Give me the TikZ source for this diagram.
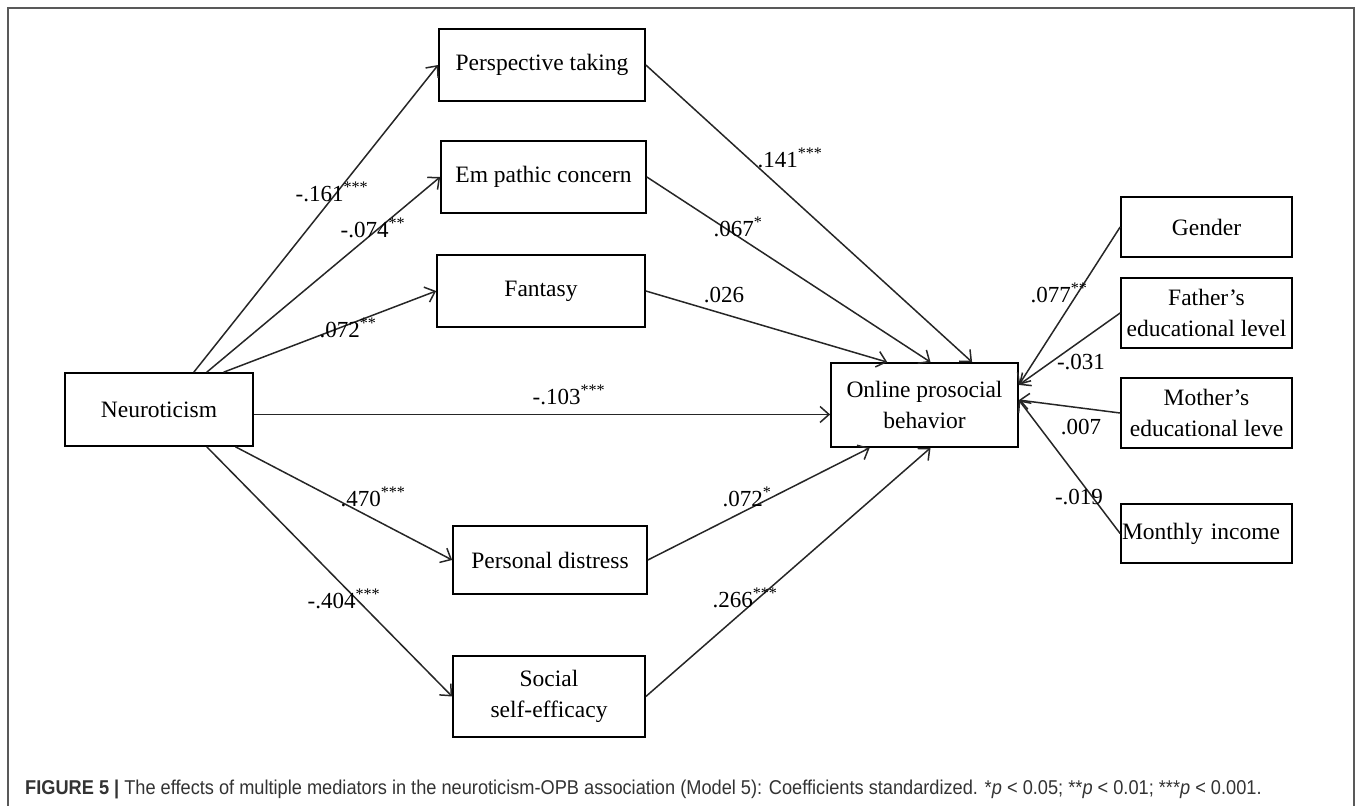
\documentclass[tikz,border=0pt]{standalone}
\usepackage{fontspec}
\setmainfont{Liberation Serif}
\newfontfamily\capfont[FakeStretch=0.91]{Liberation Sans}
\usetikzlibrary{arrows.meta,calc}
\begin{document}
\begin{tikzpicture}[x=1pt,y=-1pt,
  box/.style={draw=black, line width=1.7pt, inner sep=2pt, align=center,
    font=\fontsize{23.5}{31}\selectfont},
  lab/.style={font=\fontsize{23}{26}\selectfont, inner sep=0pt},
  arr/.style={line width=1.5pt, draw=black!85,
    -{Straight Barb[length=9pt,width=16pt,line width=1.5pt]}},
  frame/.style={draw=black!65, line width=1.6pt},
]
\useasboundingbox (0,0) rectangle (1358,806);
\draw[frame] (8,806) -- (8,8) -- (1354,8) -- (1354,806);

% nodes
\node[box, minimum width=206pt, minimum height=72pt] (pt) at (542,65) {Perspective taking};
\node[box, minimum width=205pt, minimum height=72pt] (ec) at (543.5,177) {Em pathic concern};
\node[box, minimum width=208pt, minimum height=72pt] (fa) at (541,291) {Fantasy};
\node[box, minimum width=188pt, minimum height=73pt] (ne) at (159,409.5) {Neuroticism};
\node[box, minimum width=194pt, minimum height=68pt] (pd) at (550,560) {Personal distress};
\node[box, minimum width=192pt, minimum height=81pt] (ss) at (549,696.5) {Social\\self-efficacy};
\node[box, minimum width=187pt, minimum height=84pt] (op) at (924.5,405) {Online prosocial\\behavior};
\node[box, minimum width=171pt, minimum height=60pt] (ge) at (1206.5,227) {Gender};
\node[box, minimum width=171pt, minimum height=70pt] (fe) at (1206.5,313) {Father’s\\educational level};
\node[box, minimum width=171pt, minimum height=70pt] (me) at (1206.5,413) {Mother’s\\educational leve};
\node[box, minimum width=171pt, minimum height=59pt, text width=169pt, inner xsep=1pt, align=left] (mi) at (1206.5,533.5) {Monthly income};

% connectors
\draw[arr] (ne.47) -- (pt.west);
\draw[arr] (ne.38) -- (ec.west);
\draw[arr] (ne.30.5) -- (fa.west);
\draw[arr] (ne.-3.3) -- (ne.-3.3 -| op.west);
\draw[arr] (ne.-26.6) -- (pd.west);
\draw[arr] (ne.-38.4) -- (ss.west);
\draw[arr] (pt.east) -- (op.42.1);
\draw[arr] (ec.east) -- (op.82.5);
\draw[arr] (fa.east) -- (op.131.8);
\draw[arr] (pd.east) -- (op.218.1);
\draw[arr] (ss.east) -- (op.-82.5);
\draw[arr] (ge.west) -- (op.12);
\draw[arr] (fe.west) -- (op.12);
\draw[arr] (me.west) -- (op.3);
\draw[arr] (mi.west) -- (op.3);

% labels
\node[lab] (l1) at (332,192) {-.161\textsuperscript{***}};
\node[lab] (l2) at (373,228) {-.074\textsuperscript{**}};
\node[lab] (l3) at (348,328) {.072\textsuperscript{**}};
\node[lab] (l4) at (569,395) {-.103\textsuperscript{***}};
\node[lab] (l5) at (790,158) {.141\textsuperscript{***}};
\node[lab] (l6) at (738,227) {.067\textsuperscript{*}};
\node[lab] (l7) at (724,295) {.026};
\node[lab] (l8) at (1059,293) {.077\textsuperscript{**}};
\node[lab] (l9) at (1081,362) {-.031};
\node[lab] (l10) at (1081,427) {.007};
\node[lab] (l11) at (1079,497) {-.019};
\node[lab] (l12) at (373,497) {.470\textsuperscript{***}};
\node[lab] (l13) at (344,599) {-.404\textsuperscript{***}};
\node[lab] (l14) at (747,497) {.072\textsuperscript{*}};
\node[lab] (l15) at (745,598) {.266\textsuperscript{***}};

% caption
\node[anchor=west, inner sep=0pt, text=black!80, font=\capfont\fontsize{20}{23}\selectfont] (cap) at (25,789)
  {\textbf{FIGURE 5} \textbf{|} The effects of multiple mediators in the neuroticism-OPB association (Model 5): Coefficients standardized. *\textit{p} < 0.05; **\textit{p} < 0.01; ***\textit{p} < 0.001.};
\end{tikzpicture}
\end{document}
